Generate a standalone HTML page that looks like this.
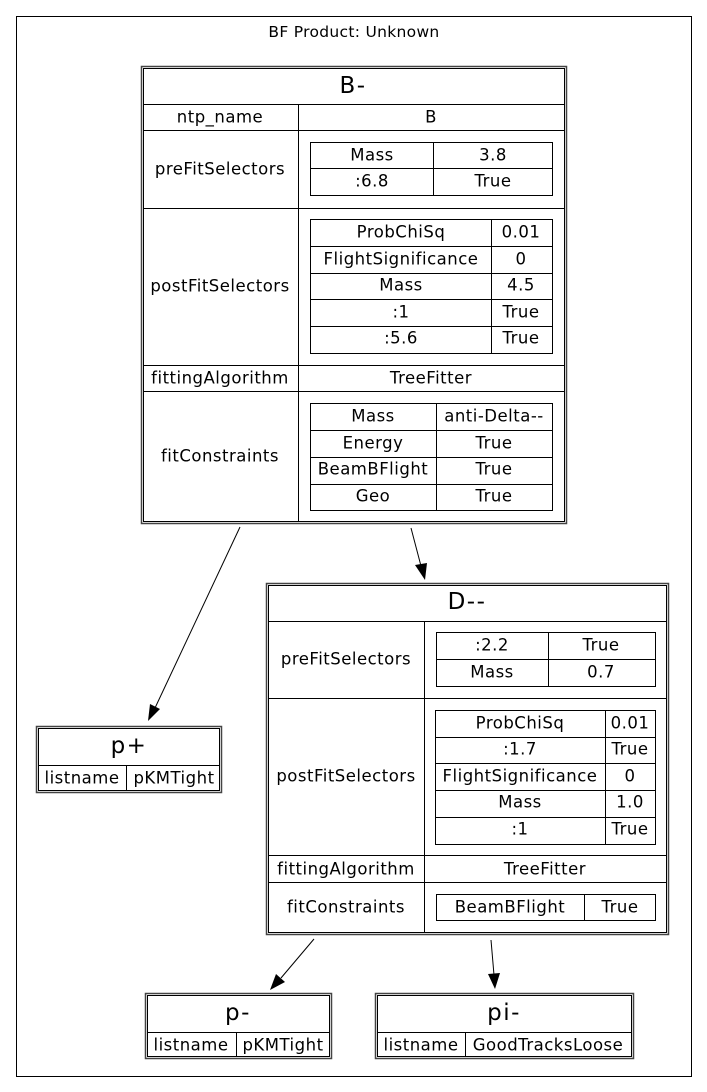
<!DOCTYPE html>
<html><head><meta charset="utf-8"><style>
html,body{margin:0;padding:0;background:#fff;}
svg{display:block;}
text{font-family:"DejaVu Sans","Liberation Sans",sans-serif;font-size:16.5px;letter-spacing:0.5px;text-anchor:middle;dominant-baseline:central;fill:#000;}
text.t{font-size:23px;letter-spacing:1.5px;}
text.c{font-size:15.5px;letter-spacing:0.3px;}
.l{stroke:#000;stroke-width:1;fill:none;}
.o{stroke:#444;stroke-width:1.5;fill:none;}
</style></head><body>
<svg width="707" height="1092" viewBox="0 0 707 1092" xmlns="http://www.w3.org/2000/svg">
<rect x="0" y="0" width="707" height="1092" fill="#fff"/>
<rect class="l" x="16.5" y="16.5" width="675" height="1060" stroke="#222"/>
<text class="c" x="354" y="32">BF Product: Unknown</text>

<!-- B- -->
<rect class="o" x="141.5" y="66.5" width="425" height="457" stroke-width="2"/>
<rect class="l" x="143.5" y="68.5" width="421" height="453"/>
<text class="t" x="353" y="86">B-</text>
<line class="l" x1="143" y1="104.5" x2="565" y2="104.5"/>
<line class="l" x1="143" y1="130.5" x2="565" y2="130.5"/>
<line class="l" x1="143" y1="208.5" x2="565" y2="208.5"/>
<line class="l" x1="143" y1="365.5" x2="565" y2="365.5"/>
<line class="l" x1="143" y1="391.5" x2="565" y2="391.5"/>
<line class="l" x1="298.5" y1="104" x2="298.5" y2="522"/>
<text x="220" y="117">ntp_name</text><text x="431" y="117">B</text>
<text x="220" y="169">preFitSelectors</text>
<text x="220" y="286">postFitSelectors</text>
<text x="220" y="378">fittingAlgorithm</text><text x="431" y="378">TreeFitter</text>
<text x="220" y="456">fitConstraints</text>
<rect class="l" x="310.5" y="142.5" width="242" height="53"/>
<line class="l" x1="310" y1="168.5" x2="553" y2="168.5"/>
<line class="l" x1="433.5" y1="142" x2="433.5" y2="196"/>
<text x="372" y="155">Mass</text><text x="493" y="155">3.8</text>
<text x="372" y="181">:6.8</text><text x="493" y="181">True</text>
<rect class="l" x="310.5" y="219.5" width="242" height="134"/>
<line class="l" x1="310" y1="246.5" x2="553" y2="246.5"/>
<line class="l" x1="310" y1="273.5" x2="553" y2="273.5"/>
<line class="l" x1="310" y1="299.5" x2="553" y2="299.5"/>
<line class="l" x1="310" y1="326.5" x2="553" y2="326.5"/>
<line class="l" x1="491.5" y1="219" x2="491.5" y2="354"/>
<text x="401" y="232">ProbChiSq</text><text x="521" y="232">0.01</text>
<text x="401" y="259">FlightSignificance</text><text x="521" y="259">0</text>
<text x="401" y="285">Mass</text><text x="521" y="285">4.5</text>
<text x="401" y="312">:1</text><text x="521" y="312">True</text>
<text x="401" y="338">:5.6</text><text x="521" y="338">True</text>
<rect class="l" x="310.5" y="403.5" width="242" height="107"/>
<line class="l" x1="310" y1="430.5" x2="553" y2="430.5"/>
<line class="l" x1="310" y1="457.5" x2="553" y2="457.5"/>
<line class="l" x1="310" y1="484.5" x2="553" y2="484.5"/>
<line class="l" x1="436.5" y1="403" x2="436.5" y2="511"/>
<text x="373" y="416">Mass</text><text x="494" y="416">anti-Delta--</text>
<text x="373" y="443">Energy</text><text x="494" y="443">True</text>
<text x="373" y="469">BeamBFlight</text><text x="494" y="469">True</text>
<text x="373" y="496">Geo</text><text x="494" y="496">True</text>

<!-- D-- -->
<rect class="o" x="266.5" y="583.5" width="402" height="351"/>
<rect class="l" x="268.5" y="585.5" width="398" height="347"/>
<text class="t" x="467" y="602">D--</text>
<line class="l" x1="268" y1="621.5" x2="667" y2="621.5"/>
<line class="l" x1="268" y1="698.5" x2="667" y2="698.5"/>
<line class="l" x1="268" y1="855.5" x2="667" y2="855.5"/>
<line class="l" x1="268" y1="882.5" x2="667" y2="882.5"/>
<line class="l" x1="424.5" y1="621" x2="424.5" y2="933"/>
<text x="346" y="659">preFitSelectors</text>
<text x="346" y="776">postFitSelectors</text>
<text x="346" y="869">fittingAlgorithm</text><text x="545" y="869">TreeFitter</text>
<text x="346" y="907">fitConstraints</text>
<rect class="l" x="436.5" y="632.5" width="219" height="54"/>
<line class="l" x1="436" y1="659.5" x2="656" y2="659.5"/>
<line class="l" x1="548.5" y1="632" x2="548.5" y2="687"/>
<text x="492" y="645">:2.2</text><text x="601" y="645">True</text>
<text x="492" y="672">Mass</text><text x="601" y="672">0.7</text>
<rect class="l" x="435.5" y="710.5" width="220" height="134"/>
<line class="l" x1="435" y1="737.5" x2="656" y2="737.5"/>
<line class="l" x1="435" y1="763.5" x2="656" y2="763.5"/>
<line class="l" x1="435" y1="790.5" x2="656" y2="790.5"/>
<line class="l" x1="435" y1="817.5" x2="656" y2="817.5"/>
<line class="l" x1="605.5" y1="710" x2="605.5" y2="845"/>
<text x="520" y="723">ProbChiSq</text><text x="630" y="723">0.01</text>
<text x="520" y="749">:1.7</text><text x="630" y="749">True</text>
<text x="520" y="776">FlightSignificance</text><text x="630" y="776">0</text>
<text x="520" y="802">Mass</text><text x="630" y="802">1.0</text>
<text x="520" y="829">:1</text><text x="630" y="829">True</text>
<rect class="l" x="436.5" y="894.5" width="219" height="26"/>
<line class="l" x1="584.5" y1="894" x2="584.5" y2="921"/>
<text x="510" y="907">BeamBFlight</text><text x="620" y="907">True</text>

<!-- p+ -->
<rect class="o" x="36.5" y="726.5" width="185" height="66" stroke-width="2"/>
<rect class="l" x="38.5" y="728.5" width="181" height="62"/>
<line class="l" x1="38" y1="765.5" x2="220" y2="765.5"/>
<line class="l" x1="126.5" y1="765" x2="126.5" y2="791"/>
<text class="t" x="129" y="746">p+</text>
<text x="82" y="778">listname</text><text x="174" y="778">pKMTight</text>

<!-- p- -->
<rect class="o" x="145.5" y="993.5" width="186" height="65" stroke-width="2"/>
<rect class="l" x="147.5" y="995.5" width="182" height="61"/>
<line class="l" x1="147" y1="1032.5" x2="330" y2="1032.5"/>
<line class="l" x1="236.5" y1="1032" x2="236.5" y2="1057"/>
<text class="t" x="238" y="1013">p-</text>
<text x="191" y="1045">listname</text><text x="283" y="1045">pKMTight</text>

<!-- pi- -->
<rect class="o" x="375.5" y="993.5" width="258" height="65" stroke-width="2"/>
<rect class="l" x="377.5" y="995.5" width="254" height="61"/>
<line class="l" x1="377" y1="1032.5" x2="632" y2="1032.5"/>
<line class="l" x1="465.5" y1="1032" x2="465.5" y2="1057"/>
<text class="t" x="504" y="1013">pi-</text>
<text x="421" y="1045">listname</text><text x="548" y="1045">GoodTracksLoose</text>

<!-- edges -->
<line class="l" x1="240" y1="527" x2="155" y2="708"/>
<polygon points="148,721 150,704 160,709" fill="#000"/>
<line class="l" x1="411" y1="528" x2="421" y2="566"/>
<polygon points="425,580 415,565 427,563" fill="#000"/>
<line class="l" x1="314" y1="939" x2="281" y2="978"/>
<polygon points="270,990 276,974 285,982" fill="#000"/>
<line class="l" x1="491" y1="940" x2="494" y2="975"/>
<polygon points="495,989 488,974 500,973" fill="#000"/>
</svg>
</body></html>
